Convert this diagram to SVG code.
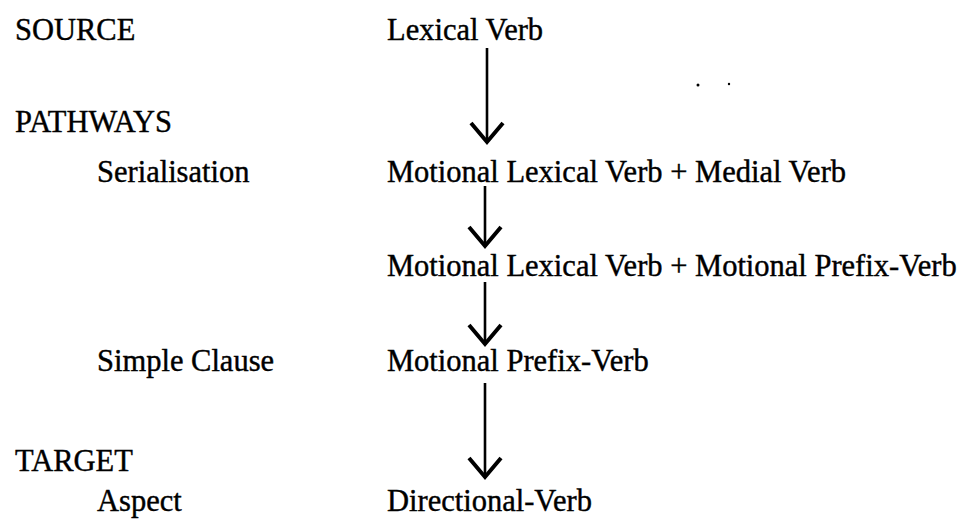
<svg xmlns="http://www.w3.org/2000/svg" width="973" height="523" viewBox="0 0 973 523">
<style>
  text { font-family: "Liberation Serif", "Times New Roman", "DejaVu Serif", serif; font-size: 30.5px; fill: #000; stroke: #000; stroke-width: 0.4; }
  .conn line { stroke: #000; stroke-width: 2.6; fill: none; }
</style>
<defs>
  <marker id="vhead" markerUnits="userSpaceOnUse" markerWidth="30" markerHeight="40" viewBox="-24 -20 30 40" refX="0" refY="0" orient="auto" overflow="visible">
    <path d="M-19,-16 L0,0 L-19,16" fill="none" stroke="#000" stroke-width="4"/>
  </marker>
</defs>
<rect width="973" height="523" fill="#fff"/>
<g id="labels">
  <text x="15" y="40">SOURCE</text>
  <text x="15" y="132">PATHWAYS</text>
  <text x="97" y="182">Serialisation</text>
  <text x="97" y="371">Simple Clause</text>
  <text x="15" y="471">TARGET</text>
  <text x="97" y="511">Aspect</text>
</g>
<g id="n1"><text x="387" y="40">Lexical Verb</text></g>
<g id="n2"><text x="387" y="182">Motional Lexical Verb + Medial Verb</text></g>
<g id="n3"><text x="387" y="276">Motional Lexical Verb + Motional Prefix-Verb</text></g>
<g id="n4"><text x="387" y="371">Motional Prefix-Verb</text></g>
<g id="n5"><text x="387" y="511">Directional-Verb</text></g>
<g class="conn" id="connectors">
  <line x1="487" y1="48" x2="487" y2="142" marker-end="url(#vhead)"/>
  <line x1="485" y1="186" x2="485" y2="246" marker-end="url(#vhead)"/>
  <line x1="485" y1="282" x2="485" y2="344" marker-end="url(#vhead)"/>
  <line x1="485" y1="383" x2="485" y2="477" marker-end="url(#vhead)"/>
</g>
<circle cx="698" cy="85" r="1.5" fill="#000"/>
<circle cx="729" cy="84" r="1.2" fill="#000"/>
</svg>
